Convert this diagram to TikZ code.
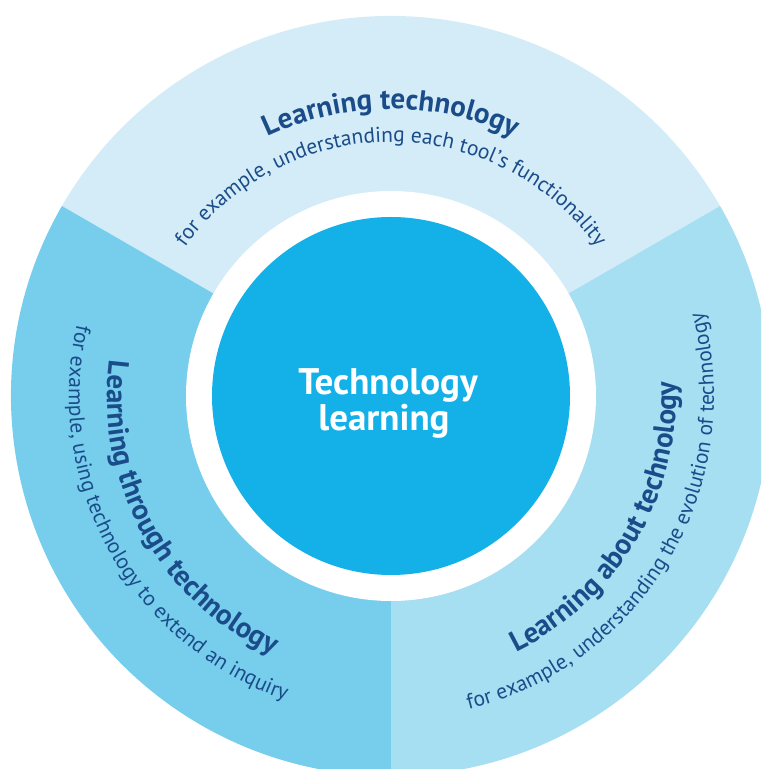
\documentclass[tikz,border=0pt]{standalone}
\usepackage{fontspec}
\setmainfont{PT Sans}
\usetikzlibrary{decorations.text}
\definecolor{segtop}{HTML}{D3ECF7}
\definecolor{segleft}{HTML}{76CEEC}
\definecolor{segright}{HTML}{A6DEF2}
\definecolor{core}{HTML}{13B1E8}
\definecolor{ink}{HTML}{1B4C8A}
\newcommand{\ttlfont}{\fontsize{29}{29}\selectfont\bfseries\color{ink}}
\newcommand{\subfont}{\fontsize{21.5}{21.5}\selectfont\color{ink}}
\begin{document}
\begin{tikzpicture}[x=1pt,y=1pt,
  arctext/.style={decorate, decoration={text along path, text align=center, text={#1}}},
  corelabel/.style={text=white, font=\fontsize{37}{37}\selectfont\bfseries, anchor=base, inner sep=0}]
\useasboundingbox (0,0) rectangle (761,769);
\clip (0,0) rectangle (761,769);
\coordinate (c) at (391,373);
% segments
\fill[segtop] (c) -- ([shift={(30:380)}]c) arc[start angle=30, end angle=150, radius=380] -- cycle;
\fill[segleft] (c) -- ([shift={(150:380)}]c) arc[start angle=150, end angle=270, radius=380] -- cycle;
\fill[segright] (c) -- ([shift={(270:380)}]c) arc[start angle=270, end angle=390, radius=380] -- cycle;
% white ring and core
\fill[white] (c) circle[radius=205];
\node[circle, fill=core, minimum size=358, inner sep=0] (core) at (c) {};
\node[corelabel] (t1) at (388,374) {Technology};
\node[corelabel] (t2) at (384,338) {learning};
% top texts
\path[arctext={|\ttlfont|Learning technology}] ([shift={(150:287)}]c) arc[start angle=150, end angle=30, radius=287];
\path[arctext={|\subfont|for example, understanding each tool's functionality}] ([shift={(150:254)}]c) arc[start angle=150, end angle=30, radius=254];
% left texts
\path[arctext={|\ttlfont|Learning through technology}] ([shift={(150:284)}]c) arc[start angle=150, end angle=268, radius=284];
\path[arctext={|\subfont|for example, using technology to extend an inquiry}] ([shift={(150:322)}]c) arc[start angle=150, end angle=268, radius=322];
% right texts
\path[arctext={|\ttlfont|Learning about technology}] ([shift={(270:285)}]c) arc[start angle=270, end angle=389, radius=285];
\path[arctext={|\subfont|for example, understanding the evolution of technology}] ([shift={(270:323)}]c) arc[start angle=270, end angle=389, radius=323];
\end{tikzpicture}
\end{document}
